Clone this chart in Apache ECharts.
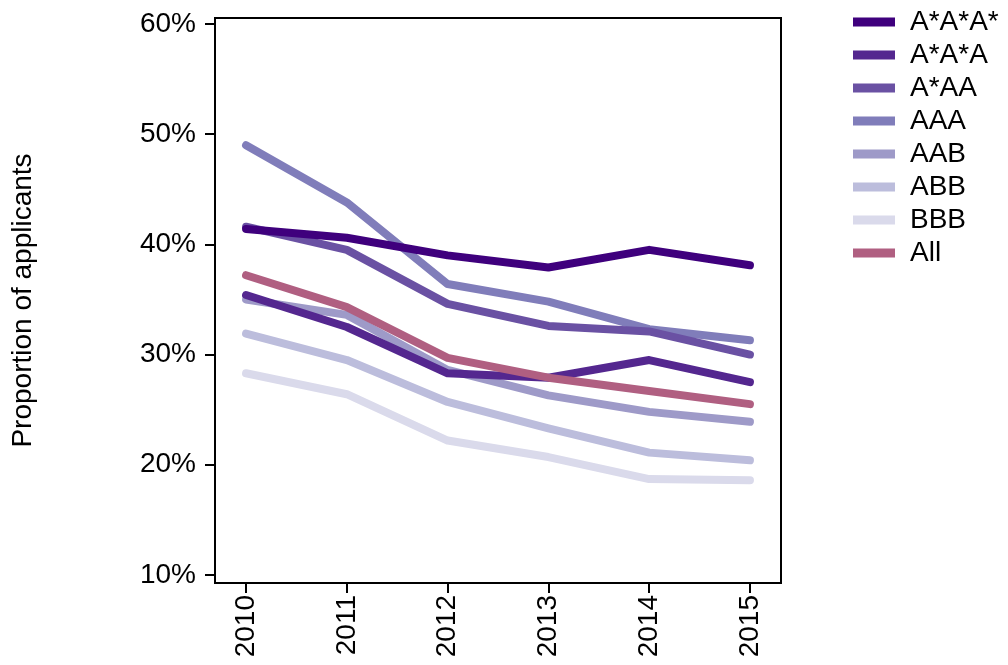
<!DOCTYPE html>
<html>
<head>
<meta charset="utf-8">
<title>Proportion of applicants</title>
<script src="https://cdn.jsdelivr.net/npm/echarts@6/dist/echarts.min.js"></script>
<style>
body{
margin:0;
background:white;
}
#chart{
width:1008px;
height:665px;
}
</style>
</head>
<body>

<div id="chart"></div>

<script>

const years=[2010,2011,2012,2013,2014,2015]
const yTicks=[10,20,30,40,50,60]

const names=["A*A*A*","A*A*A","A*AA","AAA","AAB","ABB","BBB","All"]
const colors=["#3f007d","#54278f","#6a51a3","#807dba","#9e9ac8","#bcbddc","#dadaeb","#b05f81"]

const aStarAStarAStar=[41.4,40.6,39.0,37.9,39.5,38.1]
const aStarAStarA=[35.4,32.5,28.3,27.9,29.5,27.5]
const aStarAA=[41.6,39.5,34.6,32.6,32.1,30.0]
const aaa=[49.0,43.8,36.4,34.8,32.3,31.3]
const aab=[35.0,33.6,28.6,26.3,24.8,23.9]
const abb=[31.9,29.5,25.7,23.3,21.1,20.4]
const bbb=[28.3,26.4,22.2,20.7,18.7,18.6]
const all=[37.2,34.3,29.7,27.9,26.7,25.5]

const values=[aStarAStarAStar,aStarAStarA,aStarAA,aaa,aab,abb,bbb,all]

const font="Liberation Sans, Arial, sans-serif"

// lightest first so the darker lines sit on top, All drawn last
const drawOrder=[6,5,4,3,2,1,0,7]

const series=drawOrder.map(i=>({
name:names[i],
type:"line",
data:years.map((y,k)=>[y,values[i][k]]),
showSymbol:false,
symbol:"none",
color:colors[i],
lineStyle:{width:8,color:colors[i],cap:"round",join:"round"},
animation:false
}))

const chart=echarts.init(document.getElementById("chart"))

chart.setOption({

animation:false,

grid:{
left:215,
right:227,
top:18,
bottom:82,
containLabel:false,
outerBoundsMode:"none",
show:true,
borderColor:"#000",
borderWidth:2,
backgroundColor:"transparent"
},

legend:{
data:names,
orient:"vertical",
left:853,
top:8,
padding:0,
icon:"rect",
itemWidth:42,
itemHeight:9,
itemGap:5,
itemTextGap:5,
textStyle:{fontFamily:font,fontSize:28,color:"#000",lineHeight:28,padding:[0,0,0,10]},
selectedMode:false
},

xAxis:{
type:"value",
min:2009.692,
max:2015.308,
splitLine:{show:false},
axisLine:{show:false},
axisTick:{show:true,length:10,inside:false,customValues:years,lineStyle:{color:"#000",width:2}},
axisLabel:{
customValues:years,
rotate:90,
margin:12,
fontFamily:font,
fontSize:28,
color:"#000",
formatter:v=>String(Math.round(v))
}
},

yAxis:{
type:"value",
min:9.27,
max:60.54,
name:"Proportion of applicants",
nameLocation:"middle",
nameGap:178,
nameTextStyle:{fontFamily:font,fontSize:28,color:"#000"},
splitLine:{show:false},
axisLine:{show:false},
axisTick:{show:true,length:10,inside:false,customValues:yTicks,lineStyle:{color:"#000",width:2}},
axisLabel:{
customValues:yTicks,
margin:19,
fontFamily:font,
fontSize:28,
color:"#000",
formatter:v=>Math.round(v)+"%"
}
},

series:series

})

</script>

</body>
</html>
